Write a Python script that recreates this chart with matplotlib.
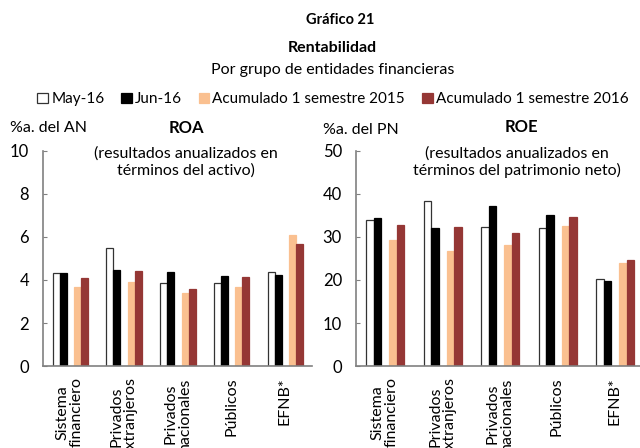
import numpy as np
import matplotlib.pyplot as plt

plt.rcParams['font.family'] = ['Lato', 'DejaVu Sans']

categorias = ["Sistema\nfinanciero", "Privados\nextranjeros", "Privados\nnacionales",
              "Públicos", "EFNB*"]
series = ["May-16", "Jun-16", "Acumulado 1 semestre 2015", "Acumulado 1 semestre 2016"]

roa_may16 = [4.33, 5.51, 3.86, 3.85, 4.36]
roa_jun16 = [4.32, 4.47, 4.39, 4.18, 4.25]
roa_2015 = [3.69, 3.91, 3.38, 3.69, 6.09]
roa_2016 = [4.08, 4.42, 3.58, 4.13, 5.67]

roe_may16 = [33.9, 38.3, 32.4, 32.1, 20.2]
roe_jun16 = [34.3, 32.0, 37.3, 35.0, 19.7]
roe_2015 = [29.3, 26.7, 28.2, 32.6, 24.0]
roe_2016 = [32.7, 32.3, 30.9, 34.7, 24.6]

colores = ["white", "black", "#FAC090", "#953735"]
bordes = ["#333333", "black", "#FAC090", "#953735"]
offsets = [-0.255, -0.125, 0.145, 0.275]
ancho = 0.13

fig = plt.figure(figsize=(6.4, 4.48), dpi=100)
ax1 = fig.add_axes([0.0672, 0.183, 0.420, 0.48])
ax2 = fig.add_axes([0.556, 0.183, 0.449, 0.48])

x = np.arange(len(categorias))


def dibujar(ax, datos, ymax, paso):
    for i, vals in enumerate(datos):
        ax.bar(x + offsets[i], vals, ancho, color=colores[i], edgecolor=bordes[i],
               linewidth=0.9, label=series[i])
    ax.set_xlim(-0.5, len(categorias) - 0.5)
    ax.set_ylim(0, ymax)
    ax.set_yticks(np.arange(0, ymax + 0.1, paso))
    ax.tick_params(axis='y', direction='in', length=3, labelsize=12, pad=10,
                   color="#808080")
    ax.set_xticks(x)
    ax.set_xticklabels(categorias, rotation=90, fontsize=11.5, linespacing=1.0,
                       multialignment='center', va='top')
    ax.tick_params(axis='x', length=0, pad=8)
    for s in ["top", "right"]:
        ax.spines[s].set_visible(False)
    for s in ["left", "bottom"]:
        ax.spines[s].set_color("#808080")
        ax.spines[s].set_linewidth(1.2)


dibujar(ax1, [roa_may16, roa_jun16, roa_2015, roa_2016], 10, 2)
dibujar(ax2, [roe_may16, roe_jun16, roe_2015, roe_2016], 50, 10)

fig.text(0.531, 0.955, "Gráfico 21", ha='center', va='center', fontsize=10.5, fontweight='bold')
fig.text(0.52, 0.893, "Rentabilidad", ha='center', va='center', fontsize=11.5, fontweight='bold')
fig.text(0.52, 0.844, "Por grupo de entidades financieras", ha='center', va='center', fontsize=11.5)

fig.text(0.016, 0.714, "%a. del AN", ha='left', va='center', fontsize=11.5)
fig.text(0.291, 0.714, "ROA", ha='center', va='center', fontsize=12, fontweight='bold')
fig.text(0.291, 0.638, "(resultados anualizados en\ntérminos del activo)", ha='center',
         va='center', fontsize=11.5, linespacing=1.25)

fig.text(0.505, 0.709, "%a. del PN", ha='left', va='center', fontsize=11.5)
fig.text(0.814, 0.716, "ROE", ha='center', va='center', fontsize=12, fontweight='bold')
fig.text(0.808, 0.638, "(resultados anualizados en\ntérminos del patrimonio neto)", ha='center',
         va='center', fontsize=11.5, linespacing=1.25)

h, l = ax1.get_legend_handles_labels()
fig.legend(h, l, loc='center', bbox_to_anchor=(0.52, 0.778), ncol=4, frameon=False,
           fontsize=11, handlelength=0.7, handleheight=0.7, handletextpad=0.2,
           columnspacing=1.1, borderaxespad=0)

fig.savefig("out.png", dpi=100)
